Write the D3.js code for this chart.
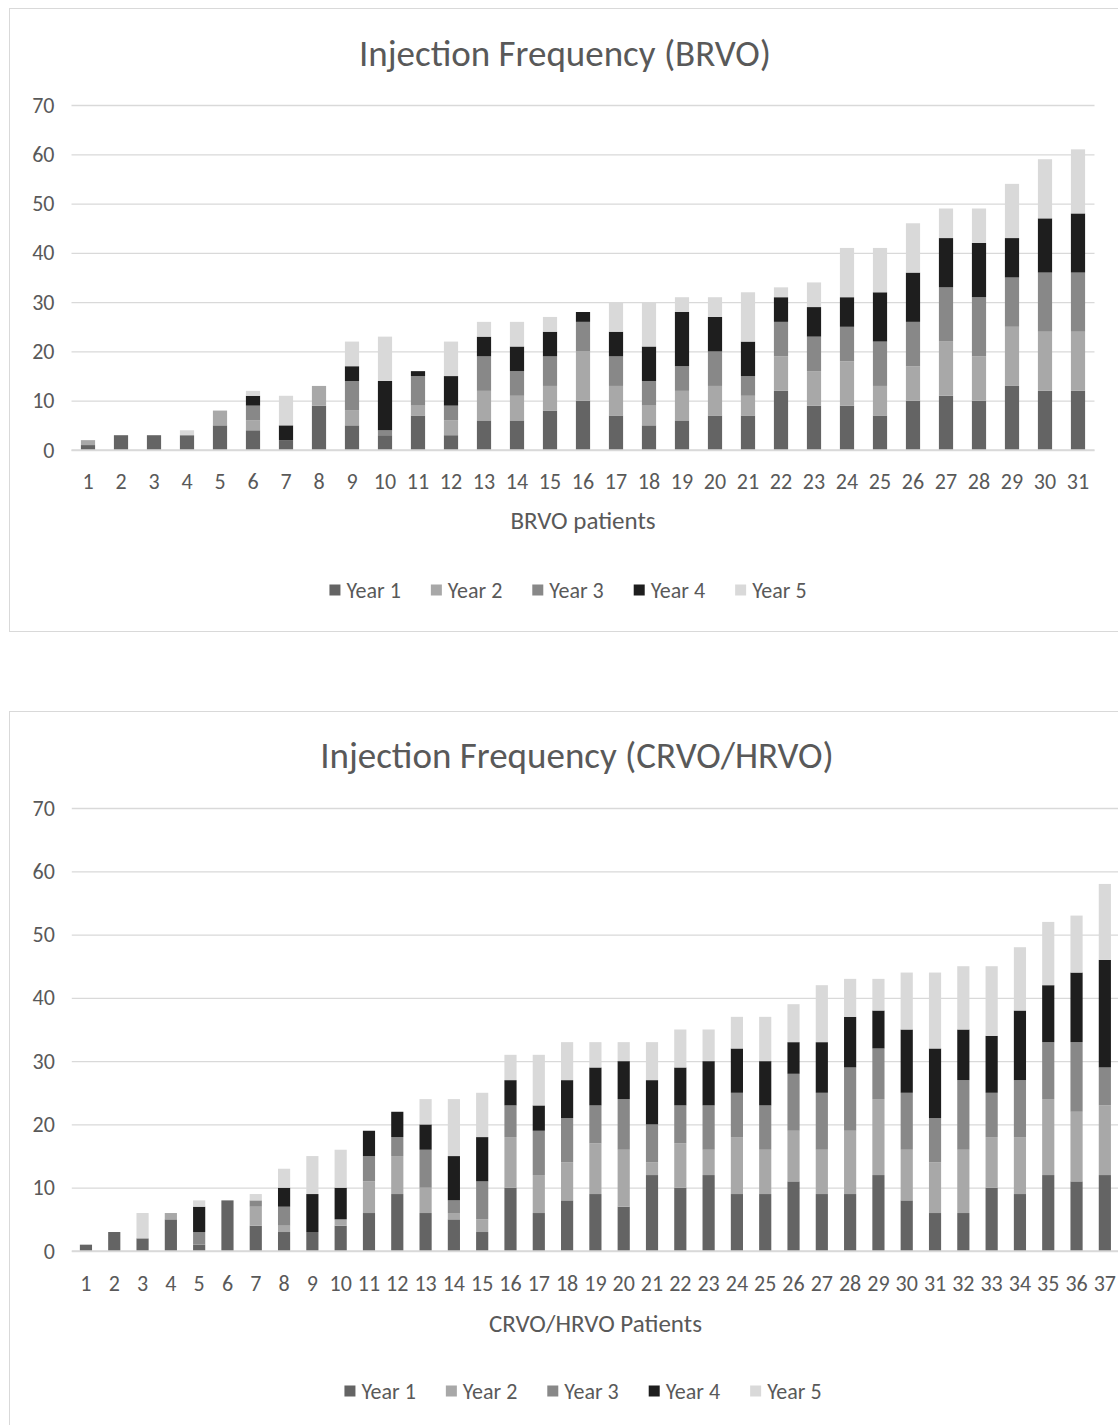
<!DOCTYPE html>
<html>
<head>
<meta charset="utf-8">
<script src="https://cdn.jsdelivr.net/npm/d3@7"></script>
<style>
    body { margin: 0; background: #ffffff; }
    text { font-family: Carlito, Lato, "Open Sans", sans-serif; fill: #595959; }
</style>
</head>
<body>
<svg id="chart" width="1118" height="1425"></svg>
<script>
const yearNames = ["Year 1", "Year 2", "Year 3", "Year 4", "Year 5"];

const yearPaint = new Map([
    ["Year 1", "#646464"],
    ["Year 2", "#a8a8a8"],
    ["Year 3", "#888888"],
    ["Year 4", "#1e1e1e"],
    ["Year 5", "#d9d9d9"]
]);

const yTickValues = [0, 10, 20, 30, 40, 50, 60, 70];

// BRVO patients 1..31, injections per year
const brvoPatients = ["1", "2", "3", "4", "5", "6", "7", "8", "9", "10", "11", "12", "13", "14", "15", "16",
    "17", "18", "19", "20", "21", "22", "23", "24", "25", "26", "27", "28", "29", "30", "31"];
const brvoYear1 = [1, 3, 3, 3, 5, 4, 2, 9, 5, 3, 7, 3, 6, 6, 8, 10, 7, 5, 6, 7, 7, 12, 9, 9, 7, 10, 11, 10, 13, 12, 12];
const brvoYear2 = [1, 0, 0, 0, 3, 2, 0, 4, 3, 0, 2, 3, 6, 5, 5, 10, 6, 4, 6, 6, 4, 7, 7, 9, 6, 7, 11, 9, 12, 12, 12];
const brvoYear3 = [0, 0, 0, 0, 0, 3, 0, 0, 6, 1, 6, 3, 7, 5, 6, 6, 6, 5, 5, 7, 4, 7, 7, 7, 9, 9, 11, 12, 10, 12, 12];
const brvoYear4 = [0, 0, 0, 0, 0, 2, 3, 0, 3, 10, 1, 6, 4, 5, 5, 2, 5, 7, 11, 7, 7, 5, 6, 6, 10, 10, 10, 11, 8, 11, 12];
const brvoYear5 = [0, 0, 0, 1, 0, 1, 6, 0, 5, 9, 0, 7, 3, 5, 3, 0, 6, 9, 3, 4, 10, 2, 5, 10, 9, 10, 6, 7, 11, 12, 13];

// CRVO/HRVO patients 1..37
const crvoPatients = ["1", "2", "3", "4", "5", "6", "7", "8", "9", "10", "11", "12", "13", "14", "15", "16",
    "17", "18", "19", "20", "21", "22", "23", "24", "25", "26", "27", "28", "29", "30", "31", "32", "33",
    "34", "35", "36", "37"];
const crvoYear1 = [1, 3, 2, 5, 1, 8, 4, 3, 3, 4, 6, 9, 6, 5, 3, 10, 6, 8, 9, 7, 12, 10, 12, 9, 9, 11, 9, 9, 12, 8, 6, 6, 10, 9, 12, 11, 12];
const crvoYear2 = [0, 0, 0, 1, 0, 0, 3, 1, 0, 1, 5, 6, 4, 1, 2, 8, 6, 6, 8, 9, 2, 7, 4, 9, 7, 8, 7, 10, 12, 8, 8, 10, 8, 9, 12, 11, 11];
const crvoYear3 = [0, 0, 0, 0, 2, 0, 1, 3, 0, 0, 4, 3, 6, 2, 6, 5, 7, 7, 6, 8, 6, 6, 7, 7, 7, 9, 9, 10, 8, 9, 7, 11, 7, 9, 9, 11, 6];
const crvoYear4 = [0, 0, 0, 0, 4, 0, 0, 3, 6, 5, 4, 4, 4, 7, 7, 4, 4, 6, 6, 6, 7, 6, 7, 7, 7, 5, 8, 8, 6, 10, 11, 8, 9, 11, 9, 11, 17];
const crvoYear5 = [0, 0, 4, 0, 1, 0, 1, 3, 6, 6, 0, 0, 4, 9, 7, 4, 8, 6, 4, 3, 6, 6, 5, 5, 7, 6, 9, 6, 5, 9, 12, 10, 11, 10, 10, 9, 12];

const panels = [
    {
        title: "Injection Frequency (BRVO)",
        axisTitle: "BRVO patients",
        patients: brvoPatients,
        series: [brvoYear1, brvoYear2, brvoYear3, brvoYear4, brvoYear5],
        box: { x: 9, y: 8, width: 1140, height: 623 },
        plot: { left: 71.5, right: 1094.5, top: 105, bottom: 450 },
        titleX: 565, titleY: 53, tickY: 481, axisTitleY: 520,
        legendX: 568, legendY: 590
    },
    {
        title: "Injection Frequency (CRVO/HRVO)",
        axisTitle: "CRVO/HRVO Patients",
        patients: crvoPatients,
        series: [crvoYear1, crvoYear2, crvoYear3, crvoYear4, crvoYear5],
        box: { x: 9, y: 711, width: 1140, height: 760 },
        plot: { left: 71.8, right: 1119, top: 808, bottom: 1251 },
        titleX: 577, titleY: 755, tickY: 1283, axisTitleY: 1323,
        legendX: 583, legendY: 1391
    }
];

const svg = d3.select("#chart");

function drawPanel(panel) {
    const g = svg.append("g");

    g.append("rect")
        .attr("x", panel.box.x + 0.5)
        .attr("y", panel.box.y + 0.5)
        .attr("width", panel.box.width)
        .attr("height", panel.box.height)
        .attr("fill", "#ffffff")
        .attr("stroke", "#d9d9d9");

    const x = d3.scaleBand()
        .domain(panel.patients)
        .range([panel.plot.left, panel.plot.right])
        .paddingInner(0.57)
        .paddingOuter(0.285);

    const y = d3.scaleLinear()
        .domain([0, 70])
        .range([panel.plot.bottom, panel.plot.top]);

    // gridlines + y labels
    const yAxis = d3.axisLeft(y)
        .tickValues(yTickValues)
        .tickSize(-(panel.plot.right - panel.plot.left))
        .tickPadding(17);

    g.append("g")
        .attr("transform", `translate(${panel.plot.left},0)`)
        .call(yAxis)
        .call(a => a.select(".domain").remove())
        .call(a => a.selectAll("line").attr("stroke", "#d9d9d9").attr("stroke-width", 1.3))
        .call(a => a.selectAll("text")
            .attr("fill", "#595959")
            .style("font-size", "22px")
            .style("font-family", "Carlito, Lato, 'Open Sans', sans-serif"));

    const rows = panel.patients.map((p, i) => {
        const row = { patient: p };
        yearNames.forEach((yr, k) => { row[yr] = panel.series[k][i]; });
        return row;
    });

    const stacked = d3.stack().keys(yearNames)(rows);

    g.append("g")
        .selectAll("g")
        .data(stacked)
        .join("g")
        .attr("fill", d => yearPaint.get(d.key))
        .selectAll("rect")
        .data(d => d)
        .join("rect")
        .attr("x", d => x(d.data.patient))
        .attr("width", x.bandwidth())
        .attr("y", d => y(d[1]))
        .attr("height", d => y(d[0]) - y(d[1]));

    // baseline drawn over bars
    g.append("line")
        .attr("x1", panel.plot.left)
        .attr("x2", panel.plot.right)
        .attr("y1", y(0))
        .attr("y2", y(0))
        .attr("stroke", "#d9d9d9")
        .attr("stroke-width", 1.3);

    // category labels
    g.append("g")
        .selectAll("text")
        .data(panel.patients)
        .join("text")
        .attr("x", d => x(d) + x.bandwidth() / 2)
        .attr("y", panel.tickY)
        .attr("dy", "0.35em")
        .attr("text-anchor", "middle")
        .style("font-size", "22px")
        .text(d => d);

    g.append("text")
        .attr("x", panel.titleX)
        .attr("y", panel.titleY)
        .attr("dy", "0.35em")
        .attr("text-anchor", "middle")
        .style("font-size", "37px")
        .text(panel.title);

    g.append("text")
        .attr("x", (panel.plot.left + panel.plot.right) / 2)
        .attr("y", panel.axisTitleY)
        .attr("dy", "0.35em")
        .attr("text-anchor", "middle")
        .style("font-size", "25px")
        .text(panel.axisTitle);

    // legend, centred on legendX
    const legend = g.append("g");
    const items = legend.selectAll("g")
        .data(yearNames)
        .join("g");

    items.append("rect")
        .attr("width", 11)
        .attr("height", 11)
        .attr("y", -5.5)
        .attr("fill", d => yearPaint.get(d));

    items.append("text")
        .attr("x", 17)
        .attr("dy", "0.35em")
        .style("font-size", "22px")
        .text(d => d);

    let offset = 0;
    items.each(function () {
        const w = 17 + d3.select(this).select("text").node().getComputedTextLength();
        d3.select(this).attr("transform", `translate(${offset},0)`);
        offset += w + 30;
    });
    const total = offset - 30;
    legend.attr("transform", `translate(${panel.legendX - total / 2},${panel.legendY})`);
}

panels.forEach(drawPanel);
</script>
</body>
</html>
